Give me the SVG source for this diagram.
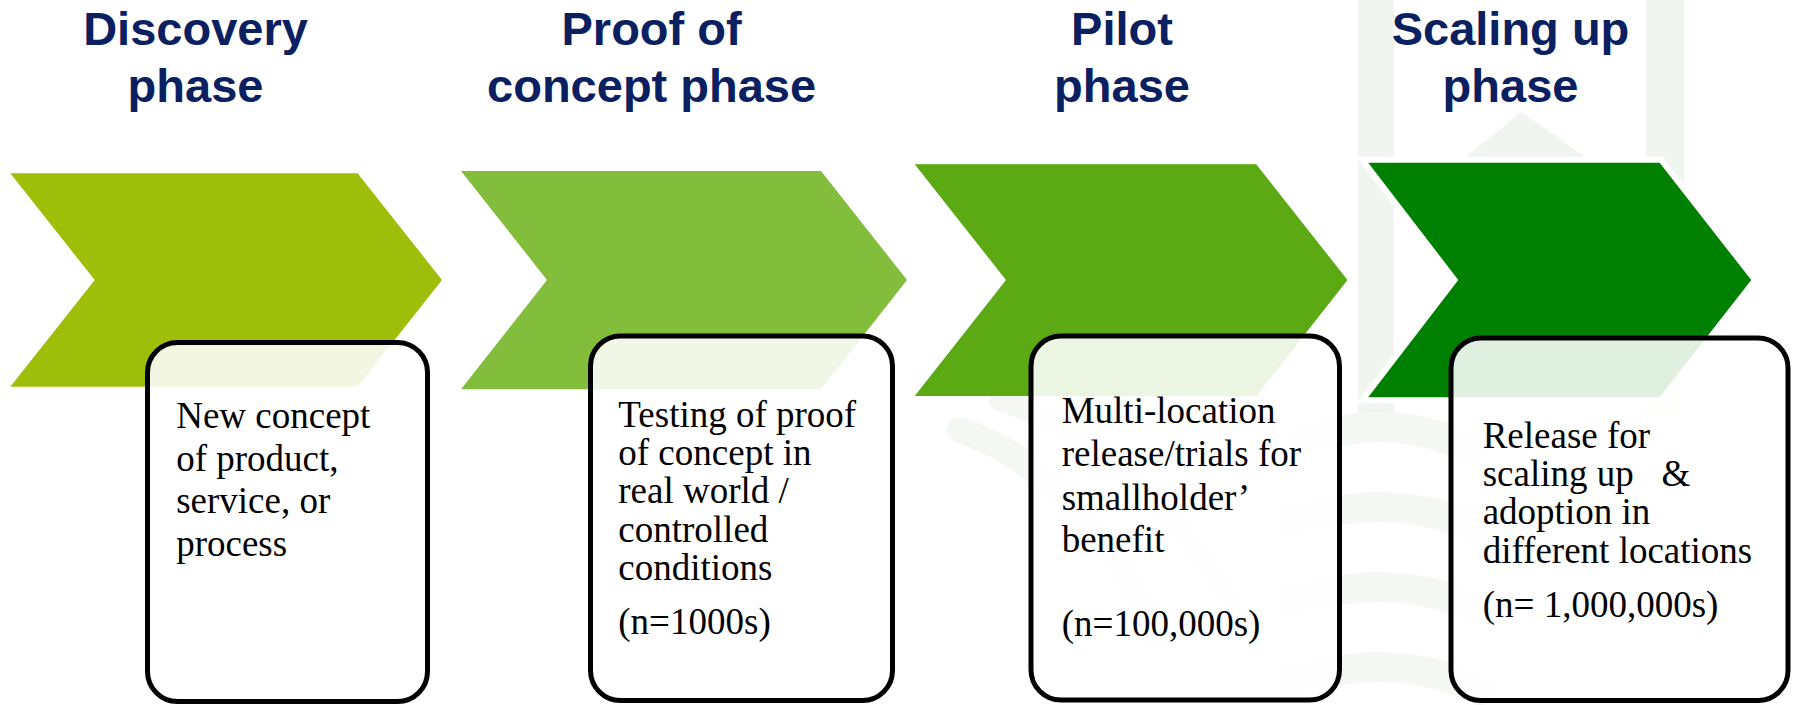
<svg xmlns="http://www.w3.org/2000/svg" width="1794" height="705" viewBox="0 0 1794 705">
  <style>
    .title { font-family: "Liberation Sans", Arial, sans-serif; font-weight: bold; font-size: 47px; fill: #0A2060; text-anchor: middle; }
    .body { font-family: "Liberation Serif", "Times New Roman", serif; font-size: 37px; fill: #000000; }
    .box { fill: #FFFFFF; fill-opacity: 0.88; stroke: #000000; stroke-width: 5; }
    .wm { fill: #F1F5EF; }
    .wmline { fill: none; stroke: #F4F7F2; stroke-linecap: round; }
  </style>
  <rect x="0" y="0" width="1794" height="705" fill="#FFFFFF"/>

  <g id="watermark">
    <rect class="wm" x="1358" y="0" width="36" height="420"/>
    <rect class="wm" x="1646" y="0" width="38" height="420"/>
    <polygon class="wm" points="1521,112 1590,160 1462,160"/>
    <path class="wmline" stroke-width="26" d="M960,430 Q1080,470 1160,640"/>
    <path class="wmline" stroke-width="22" d="M1000,400 Q1130,440 1230,600"/>
    <path class="wmline" stroke-width="30" d="M1300,440 Q1400,410 1470,450"/>
    <path class="wmline" stroke-width="30" d="M1290,520 Q1400,490 1480,530"/>
    <path class="wmline" stroke-width="30" d="M1290,600 Q1400,570 1480,610"/>
    <path class="wmline" stroke-width="30" d="M1290,680 Q1400,650 1480,690"/>
  </g>

  <g id="chevron-discovery">
    <polygon fill="#9FBE0A" points="10.3,173.3 357.6,173.3 442,280 357.6,386.7 10.3,386.7 94.7,280"/>
  </g>
  <g id="chevron-proof">
    <polygon fill="#82BD3C" points="461,171 821,171 907,280 821,389.3 461,389.3 547,280"/>
  </g>
  <g id="chevron-pilot">
    <polygon fill="#5BA913" points="914.7,164.3 1256.2,164.3 1347.5,280 1256.2,396 914.7,396 1006,280"/>
  </g>
  <g id="chevron-scaling">
    <polygon fill="#008000" stroke="#FFFFFF" stroke-width="6" stroke-linejoin="miter" points="1362,159.7 1661,159.7 1755,280 1661,400.3 1362,400.3 1454.5,280"/>
  </g>

  <g id="title-discovery">
    <text class="title" x="195.5" y="45">Discovery</text>
    <text class="title" x="195.5" y="101.7">phase</text>
  </g>
  <g id="title-proof">
    <text class="title" x="651.6" y="45">Proof of</text>
    <text class="title" x="651.6" y="101.7">concept phase</text>
  </g>
  <g id="title-pilot">
    <text class="title" x="1122" y="45">Pilot</text>
    <text class="title" x="1122" y="101.7">phase</text>
  </g>
  <g id="title-scaling">
    <text class="title" x="1510.5" y="45">Scaling up</text>
    <text class="title" x="1510.5" y="101.7">phase</text>
  </g>

  <g id="box-discovery">
    <rect class="box" x="147.5" y="342.5" width="280" height="359" rx="30" ry="30"/>
    <text class="body" x="176.2" y="428.3">New concept</text>
    <text class="body" x="176.2" y="471">of product,</text>
    <text class="body" x="176.2" y="513.3">service, or</text>
    <text class="body" x="176.2" y="556.3">process</text>
  </g>
  <g id="box-proof">
    <rect class="box" x="590.5" y="336" width="302" height="364.5" rx="30" ry="30"/>
    <text class="body" x="618.3" y="426.7">Testing of proof</text>
    <text class="body" x="618.3" y="465">of concept in</text>
    <text class="body" x="618.3" y="503.3">real world /</text>
    <text class="body" x="618.3" y="541.7">controlled</text>
    <text class="body" x="618.3" y="580">conditions</text>
    <text class="body" x="618.3" y="634.3">(n=1000s)</text>
  </g>
  <g id="box-pilot">
    <rect class="box" x="1031" y="336" width="308.5" height="364" rx="30" ry="30"/>
    <text class="body" x="1061.7" y="423.3">Multi-location</text>
    <text class="body" x="1061.7" y="466.3">release/trials for</text>
    <text class="body" x="1061.7" y="509.5">smallholder’</text>
    <text class="body" x="1061.7" y="551.7">benefit</text>
    <text class="body" x="1061.7" y="636">(n=100,000s)</text>
  </g>
  <g id="box-scaling">
    <rect class="box" x="1451" y="338" width="337" height="362.5" rx="30" ry="30"/>
    <text class="body" x="1482.7" y="447.7">Release for</text>
    <text class="body" x="1482.7" y="486" xml:space="preserve" style="white-space:pre">scaling up   &amp;</text>
    <text class="body" x="1482.7" y="524">adoption in</text>
    <text class="body" x="1482.7" y="562.7">different locations</text>
    <text class="body" x="1482.7" y="617.3">(n= 1,000,000s)</text>
  </g>

  <g id="connectors"></g>
</svg>
